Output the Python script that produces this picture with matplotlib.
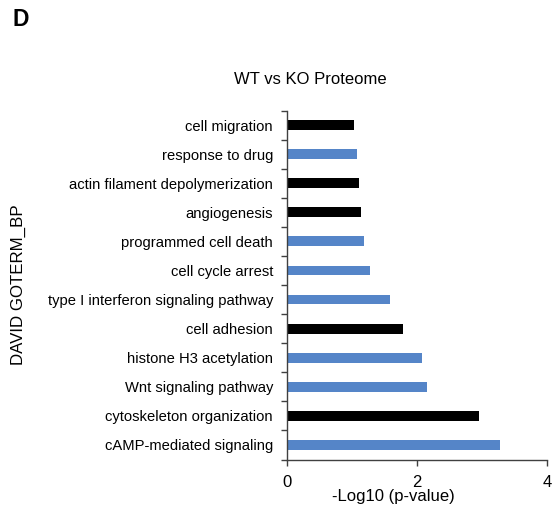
import matplotlib.pyplot as plt
import numpy as np

plt.rcParams['font.family'] = ['Liberation Sans', 'DejaVu Sans']

# GO terms, top to bottom as in the figure
terms = ['cell migration', 'response to drug', 'actin filament depolymerization',
         'angiogenesis', 'programmed cell death', 'cell cycle arrest',
         'type I interferon signaling pathway', 'cell adhesion',
         'histone H3 acetylation', 'Wnt signaling pathway',
         'cytoskeleton organization', 'cAMP-mediated signaling']
values = [1.03, 1.08, 1.11, 1.14, 1.19, 1.28, 1.58, 1.78, 2.07, 2.16, 2.95, 3.28]
groups = ['k', 'b', 'k', 'k', 'b', 'b', 'b', 'k', 'b', 'b', 'k', 'b']

col = {'k': '#000000', 'b': '#5585C8'}

fig = plt.figure(figsize=(5.55, 5.07), dpi=100)
top = 1 - 110.5 / 507
bot = 1 - 459.5 / 507
ax = fig.add_axes([287 / 555, bot, 260 / 555, top - bot])

y = np.arange(len(terms))[::-1]
ax.barh(y, values, height=0.34, color=[col[g] for g in groups])

ax.set_xlim(0, 4)
ax.set_ylim(-0.5, len(terms) - 0.5)
ax.set_xticks([0, 2, 4])
ax.set_xticklabels(['0', '2', '4'], fontsize=12)
ax.set_yticks(y)
ax.set_yticklabels(terms, fontsize=10.6)
ax.tick_params(axis='y', length=0, pad=10)
ax.set_yticks(np.arange(len(terms) + 1) - 0.5, minor=True)
ax.tick_params(axis='y', which='minor', length=4, width=1, color='#404040')
ax.tick_params(axis='x', length=4, width=1, color='#404040', pad=7)
for s in ['top', 'right']:
    ax.spines[s].set_visible(False)
for s in ['left', 'bottom']:
    ax.spines[s].set_color('#404040')
    ax.spines[s].set_linewidth(1)

fig.text(310 / 555, 1 - 79 / 507, 'WT vs KO Proteome', ha='center', va='center', fontsize=12)
fig.text(393 / 555, 1 - 497 / 507, '-Log10 (p-value)', ha='center', va='center', fontsize=12)
fig.text(18 / 555, 1 - 285 / 507, 'DAVID GOTERM_BP', ha='center', va='center',
         rotation=90, fontsize=12.2)
fig.text(13 / 555, 1 - 20 / 507, 'D', ha='left', va='center', fontsize=16.5, fontweight='bold')

plt.savefig('out.png', dpi=100)
